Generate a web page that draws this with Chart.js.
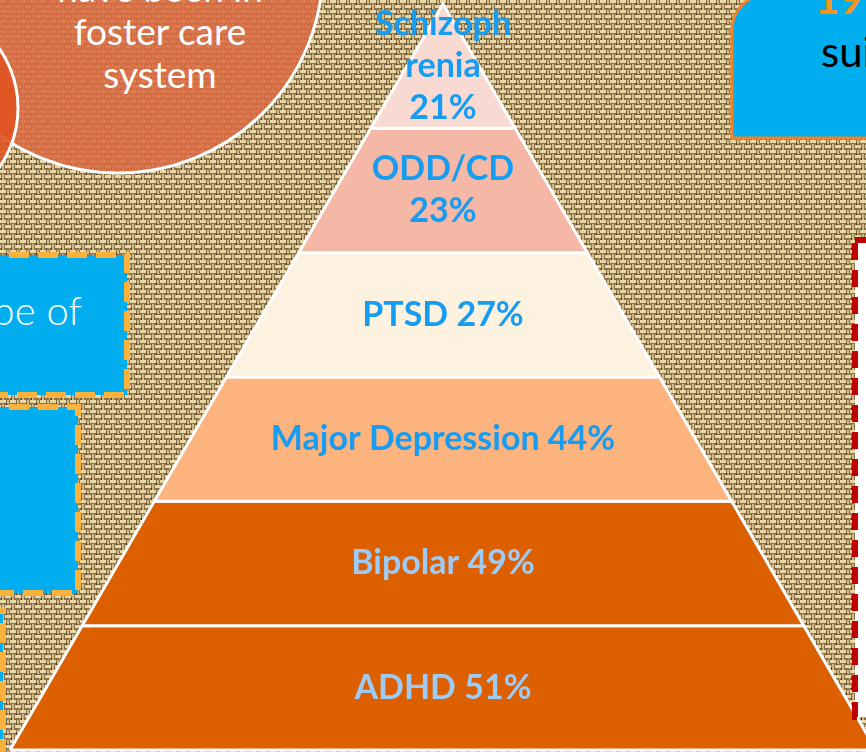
<!DOCTYPE html>
<html>
<head>
<meta charset="utf-8">
<script src="https://cdn.jsdelivr.net/npm/chart.js@4.4.1/dist/chart.umd.min.js"></script>
<style>
  body { margin: 0; overflow: hidden; background: #a8916a; }
  #wrap { position: relative; width: 866px; height: 752px; overflow: hidden; }
  #wrap svg, #wrap canvas { position: absolute; left: 0; top: 0; }
  .deco { font-family: Lato, "Open Sans", sans-serif; }
</style>
</head>
<body>
<div id="wrap">
  <!-- slide background: burlap + the shapes behind the pyramid -->
  <svg width="866" height="752" class="deco">
    <defs>
      <pattern id="burlap" width="10" height="10" patternUnits="userSpaceOnUse">
        <rect width="10" height="10" fill="#8c7148"/>
        <rect x="0" y="0" width="6" height="3" fill="#e8d8a8"/>
        <rect x="5" y="5" width="5" height="3" fill="#e8d8a8"/>
        <rect x="0" y="5" width="1" height="3" fill="#e8d8a8"/>
        <rect x="7" y="0" width="2" height="4" fill="#cdb888"/>
        <rect x="2" y="4" width="2" height="6" fill="#cdb888"/>
        <rect x="6" y="3" width="1" height="2" fill="#4a361c"/>
        <rect x="1" y="8" width="1" height="2" fill="#4a361c"/>
        <rect x="9" y="8" width="1" height="2" fill="#b59d6f"/>
      </pattern>
    </defs>
    <rect width="866" height="752" fill="url(#burlap)"/>

    <!-- circles top left -->
    <circle cx="118" cy="-32" r="205" fill="#dc6a42" fill-opacity="0.85" stroke="#fff" stroke-width="3"/>
    <circle cx="-86" cy="108" r="104" fill="#e0521f" fill-opacity="0.88" stroke="#fff" stroke-width="3"/>
    <g fill="#fff" font-size="37" text-anchor="middle">
      <text x="160" y="2">have been in</text>
      <text x="160" y="45">foster care</text>
      <text x="160" y="88">system</text>
    </g>

    <!-- blue boxes on the left -->
    <rect x="-20" y="255" width="147" height="140" fill="#00aeef" stroke="#fbb23c" stroke-width="6" stroke-dasharray="20 9"/>
    <text x="82" y="325" fill="#fff" font-size="40" font-weight="300" text-anchor="end">pe of</text>
    <rect x="-20" y="407" width="98" height="186" fill="#00aeef" stroke="#fbb23c" stroke-width="6" stroke-dasharray="20 9"/>
    <rect x="-100" y="610" width="103" height="200" fill="#00aeef" stroke="#fbb23c" stroke-width="6" stroke-dasharray="20 9"/>

    <!-- blue box top right -->
    <path d="M732 138 V30 A36 36 0 0 1 768 -6 H900 V138 Z" fill="#00aeef" stroke="#f58220" stroke-width="3"/>
    <text x="815" y="14" fill="#f7941d" font-size="42" font-weight="bold">19%</text>
    <text x="821" y="67" fill="#000" font-size="42">sui</text>
  </svg>

  <canvas id="chart" width="866" height="752"></canvas>

  <!-- dashed box on the right, above the pyramid -->
  <svg width="866" height="752">
    <rect x="855" y="240" width="100" height="477" fill="#fff" stroke="#c00000" stroke-width="6" stroke-dasharray="17 10"/>
  </svg>
</div>

<script>
// pyramid tiers, top to bottom
var categories = ['Schizophrenia', 'ODD/CD', 'PTSD', 'Major Depression', 'Bipolar', 'ADHD'];
var percents = [21, 23, 27, 44, 49, 51];

var tierColors = ['#f9dad2', '#f5b8a6', '#fdf2df', '#fcb37e', '#dc5f00', '#dc5f00'];
var textColors = ['#169cf0', '#169cf0', '#169cf0', '#169cf0', '#9dcbf5', '#9dcbf5'];

var n = categories.length;

// how the text box wraps the two narrow tiers
function labelLines(k) {
    var name = categories[k], pct = percents[k] + '%';
    if (name == 'Schizophrenia') return ['Schizoph', 'renia', pct];
    if (name == 'ODD/CD') return [name, pct];
    return [name + ' ' + pct];
}

function halfWidth(level) {
    return (n - level) / n;
}

var datasets = categories.map(function(name, k) {
    var lo = n - 1 - k, hi = n - k;
    return {
        label: name,
        data: [
            {x: -halfWidth(lo), y: lo},
            {x: -halfWidth(hi), y: hi},
            {x: halfWidth(hi), y: hi},
            {x: halfWidth(lo), y: lo},
            {x: -halfWidth(lo), y: lo}
        ],
        showLine: true,
        fill: 'shape',
        backgroundColor: tierColors[k],
        borderColor: '#ffffff',
        borderWidth: 3,
        pointRadius: 0,
        tension: 0,
        clip: false
    };
});

var tierLabels = {
    id: 'tierLabels',
    afterDatasetsDraw: function(chart) {
        var ctx = chart.ctx, xs = chart.scales.x, ys = chart.scales.y;
        ctx.save();
        ctx.font = 'bold 34px Lato, "Open Sans", sans-serif';
        ctx.textAlign = 'center';
        ctx.textBaseline = 'middle';
        categories.forEach(function(name, k) {
            var lines = labelLines(k);
            var cx = xs.getPixelForValue(0);
            var cy = ys.getPixelForValue(n - k - 0.5);
            ctx.fillStyle = textColors[k];
            lines.forEach(function(line, j) {
                ctx.fillText(line, cx, cy + (j - (lines.length - 1) / 2) * 42);
            });
        });
        ctx.restore();
    }
};

new Chart(document.getElementById('chart'), {
    type: 'scatter',
    data: { datasets: datasets },
    options: {
        responsive: false,
        animation: false,
        devicePixelRatio: 1,
        layout: { padding: 0 },
        plugins: { legend: { display: false }, tooltip: { enabled: false } },
        scales: {
            x: { type: 'linear', display: false, min: -1.0231, max: 0.9769 },
            y: { type: 'linear', display: false, min: -0.016, max: 6.032 }
        }
    },
    plugins: [tierLabels]
});
</script>
</body>
</html>
